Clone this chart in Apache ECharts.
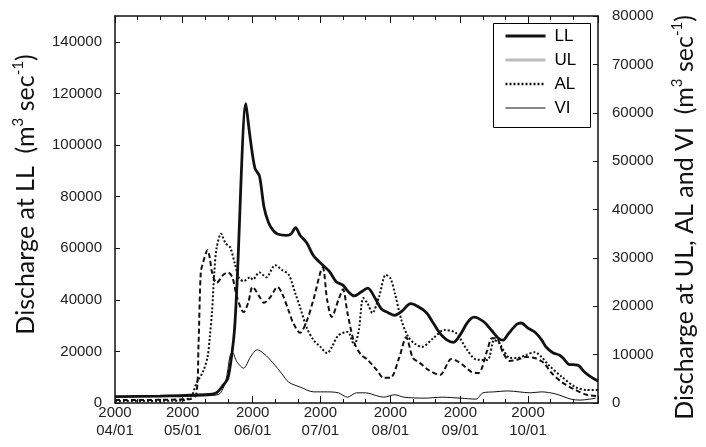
<!DOCTYPE html>
<html><head><meta charset="utf-8">
<script src="https://cdn.jsdelivr.net/npm/echarts@6/dist/echarts.min.js"></script>
<style>html,body{margin:0;padding:0;background:#fff}#c{width:706px;height:447px}</style>
</head><body><div id="c"></div>
<script>
// ---- data (date MM-DD of year 2000, discharge m3/s) ----
const LL = [['04-01',2500],['04-21',2700],['05-11',3200],['05-16',4000],['05-19',7000],['05-21',9500],['05-23',20500],['05-24',29000],['05-25',45000],['05-29',116000],['05-30',109000],['05-31',102000],['06-02',91000],['06-04',88000],['06-06',76000],['06-08',70000],['06-10',67000],['06-12',65500],['06-16',65000],['06-18',65500],['06-20',68000],['06-22',65000],['06-25',62000],['06-28',57000],['07-02',53500],['07-05',51000],['07-08',47000],['07-11',45700],['07-13',43500],['07-16',41500],['07-19',43000],['07-22',44500],['07-25',41000],['07-28',36500],['07-31',35000],['08-03',34000],['08-06',35500],['08-10',38500],['08-13',37500],['08-17',35000],['08-20',31000],['08-23',27000],['08-26',24500],['08-29',23500],['09-01',26500],['09-04',31000],['09-07',33300],['09-09',32800],['09-12',31000],['09-15',28000],['09-18',25000],['09-20',24400],['09-22',26500],['09-26',30500],['09-28',31000],['10-01',29000],['10-04',27500],['10-07',24500],['10-09',21700],['10-12',19500],['10-15',18500],['10-17',17000],['10-19',15000],['10-23',14700],['10-26',12000],['10-29',10000],['11-01',8500]];
const UL = [['04-01',600],['05-04',800],['05-07',1800],['05-08',12000],['05-09',27000],['05-10',29000],['05-12',31600],['05-13',30000],['05-14',27000],['05-16',24800],['05-19',26500],['05-21',27000],['05-23',26000],['05-25',22000],['05-28',18800],['05-30',20700],['06-01',24000],['06-04',22000],['06-06',20700],['06-09',22000],['06-12',24000],['06-14',22700],['06-17',19000],['06-19',16500],['06-22',14500],['06-25',17000],['06-28',21500],['07-02',28000],['07-04',21300],['07-06',17800],['07-09',21300],['07-11',23500],['07-13',18600],['07-16',12500],['07-19',10000],['07-22',8900],['07-26',6800],['07-29',5200],['08-01',5200],['08-05',9500],['08-08',13600],['08-11',9300],['08-14',8300],['08-18',6800],['08-23',5800],['08-28',9100],['08-30',8800],['09-02',7900],['09-06',6400],['09-09',6200],['09-13',11000],['09-15',13400],['09-17',13400],['09-20',10300],['09-23',8700],['09-26',8900],['09-30',9500],['10-04',9300],['10-08',8300],['10-11',6400],['10-16',4300],['10-22',2700],['10-27',1700],['11-01',1400]];
const AL = [['04-01',400],['05-01',500],['05-05',1600],['05-07',4000],['05-10',6500],['05-12',9500],['05-13',13600],['05-14',19000],['05-15',27000],['05-16',32000],['05-18',35000],['05-20',33000],['05-22',32200],['05-24',29000],['05-26',25800],['05-28',25200],['05-31',26000],['06-01',25500],['06-04',27000],['06-07',26000],['06-11',28500],['06-14',27500],['06-17',26500],['06-20',22500],['06-22',19800],['06-25',15500],['06-28',13000],['07-01',11600],['07-04',10300],['07-06',11500],['07-09',14000],['07-13',14700],['07-16',12000],['07-18',15000],['07-20',21700],['07-22',20500],['07-24',18600],['07-27',22000],['07-30',26500],['08-01',25800],['08-03',22700],['08-06',17000],['08-09',13600],['08-12',12200],['08-15',11600],['08-20',13400],['08-25',15100],['08-30',14500],['09-04',11000],['09-08',9000],['09-13',8900],['09-16',13000],['09-18',12500],['09-20',11000],['09-23',9300],['09-26',9300],['09-30',9900],['10-04',10500],['10-07',9500],['10-10',7900],['10-16',5400],['10-22',3300],['10-27',2700],['11-01',2700]];
const VI = [['04-01',1300],['05-11',1500],['05-17',1800],['05-20',4500],['05-22',9800],['05-23',10500],['05-25',8500],['05-28',7200],['05-31',9500],['06-03',11000],['06-06',10200],['06-10',8300],['06-14',6000],['06-17',4300],['06-22',3300],['06-28',2300],['07-04',2300],['07-09',2100],['07-13',1200],['07-17',2100],['07-21',2100],['07-26',1500],['07-29',1200],['08-03',1700],['08-07',1200],['08-16',1000],['08-24',1200],['09-01',1000],['09-08',800],['09-11',2100],['09-16',2300],['09-22',2500],['09-27',2300],['10-02',2100],['10-07',2300],['10-13',1900],['10-20',800],['10-24',600],['10-31',1000]];
const YEAR = '2000';
const leftTicks = {min: 0, max: 150000, interval: 20000};
const rightTicks = {min: 0, max: 80000, interval: 10000};

function buildDays() {
  const out = [];
  const d = new Date(Date.UTC(2000, 3, 1));
  const end = Date.UTC(2000, 10, 1);
  while (d.getTime() <= end) {
    out.push(String(d.getUTCMonth() + 1).padStart(2, '0') + '-' + String(d.getUTCDate()).padStart(2, '0'));
    d.setUTCDate(d.getUTCDate() + 1);
  }
  return out;
}
const days = buildDays();
const isMonth = (i, v) => v.endsWith('-01');
const isMinor = (i, v) => v.endsWith('-11') || v.endsWith('-21');
const INK = '#111';
const FONT = 'Liberation Sans';

function xAx(pos, tickFn, len, withLabels, withLine) {
  return {
    type: 'category', data: days, boundaryGap: false, position: pos,
    axisLine: {show: withLine, lineStyle: {color: INK, width: 1.5}},
    axisTick: {show: true, inside: true, length: len, interval: tickFn, lineStyle: {color: INK, width: 1}},
    axisLabel: withLabels ? {
      show: true, interval: (i, v) => v.endsWith('-01') && !v.startsWith('11'),
      formatter: v => YEAR + '\n' + v.replace('-', '/'),
      fontFamily: FONT, fontSize: 15, color: '#222', lineHeight: 18, margin: 1
    } : {show: false},
    splitLine: {show: false}
  };
}

function nameStyle(pad) {
  return {
    fontFamily: 'Lato', fontSize: 25, color: INK, lineHeight: 30, padding: pad,
    rich: {sup: {fontFamily: 'Lato', fontSize: 15, color: INK, verticalAlign: 'top', lineHeight: 15}}
  };
}

const chart = echarts.init(document.getElementById('c'), null, {renderer: 'canvas'});
chart.setOption({
  animation: false,
  backgroundColor: '#fff',
  grid: {left: 115, right: 108, top: 16, bottom: 44, outerBoundsMode: 'none', containLabel: false},
  legend: {
    orient: 'vertical', left: 491, top: 21, selectedMode: false,
    itemWidth: 40, itemHeight: 14, itemGap: 6,
    padding: [6, 0, 9, 13], borderWidth: 0,
    textStyle: {fontFamily: FONT, fontSize: 17, color: '#000', lineHeight: 18, padding: [0, 0, 0, 4]},
    data: [
      {name: 'LL', itemStyle: {opacity: 0}, lineStyle: {color: INK, width: 3, type: 'solid'}},
      {name: 'UL', itemStyle: {opacity: 0}, lineStyle: {color: '#bdbdbd', width: 3, type: 'solid'}},
      {name: 'AL', itemStyle: {opacity: 0}, lineStyle: {color: INK, width: 2.5, type: [2, 2]}},
      {name: 'VI', itemStyle: {opacity: 0}, lineStyle: {color: INK, width: 1, type: 'solid'}}
    ]
  },
  graphic: [{
    type: 'rect', left: 491, top: 21, silent: true, z: 100,
    shape: {x: 0, y: 0, width: 97, height: 104},
    style: {fill: 'none', stroke: '#000', lineWidth: 1}
  }],
  xAxis: [
    xAx('bottom', isMonth, 7, true, true),
    xAx('bottom', isMinor, 4, false, false),
    xAx('top', isMonth, 7, false, true),
    xAx('top', isMinor, 4, false, false)
  ],
  yAxis: [
    {
      type: 'value', position: 'left', min: leftTicks.min, max: leftTicks.max, interval: leftTicks.interval,
      name: 'Discharge at LL  (m{sup|3} sec{sup|-1})', nameLocation: 'middle', nameRotate: 90, nameGap: 72,
      nameTextStyle: nameStyle([0, 0, 0, 30]),
      axisLine: {show: true, lineStyle: {color: INK, width: 1.5}},
      axisTick: {show: true, inside: true, length: 5, lineStyle: {color: INK}},
      axisLabel: {fontFamily: FONT, fontSize: 15, color: '#222', margin: 13, showMaxLabel: false, formatter: v => String(v)},
      splitLine: {show: false}
    },
    {
      type: 'value', position: 'right', min: rightTicks.min, max: rightTicks.max, interval: rightTicks.interval,
      name: 'Discharge at UL, AL and VI  (m{sup|3} sec{sup|-1})', nameLocation: 'middle', nameRotate: 90, nameGap: 72,
      nameTextStyle: nameStyle([0, 16, 0, 0]),
      axisLine: {show: true, lineStyle: {color: INK, width: 1.5}},
      axisTick: {show: true, inside: true, length: 5, lineStyle: {color: INK}},
      axisLabel: {fontFamily: FONT, fontSize: 15, color: '#222', margin: 14, formatter: v => String(v)},
      splitLine: {show: false}
    }
  ],
  series: [
    {name: 'VI', type: 'line', yAxisIndex: 1, data: VI, symbol: 'none', smooth: 0.3, lineStyle: {color: INK, width: 1}, z: 2},
    {name: 'UL', type: 'line', yAxisIndex: 1, data: UL, symbol: 'none', smooth: 0.3, lineStyle: {color: INK, width: 2, type: [5, 3]}, z: 3},
    {name: 'AL', type: 'line', yAxisIndex: 1, data: AL, symbol: 'none', smooth: 0.3, lineStyle: {color: INK, width: 2, type: [2, 2]}, z: 4},
    {name: 'LL', type: 'line', yAxisIndex: 0, data: LL, symbol: 'none', smooth: 0.3, lineStyle: {color: INK, width: 2.8}, z: 5}
  ]
});
</script></body></html>
